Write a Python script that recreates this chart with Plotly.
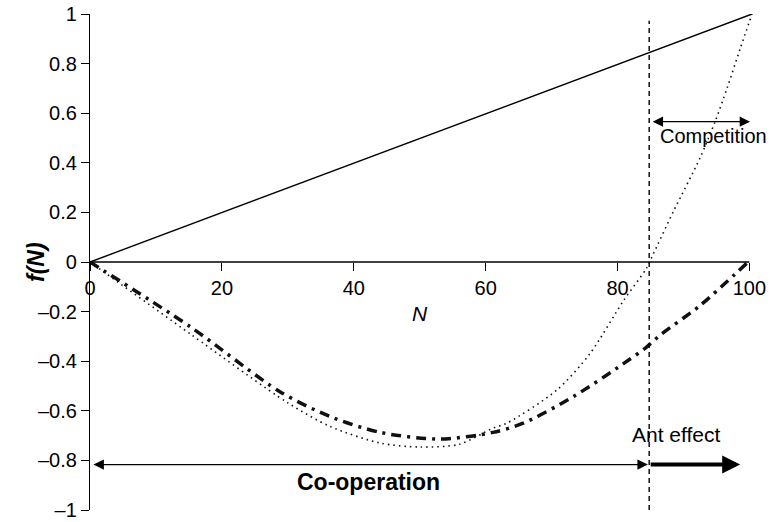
import plotly.graph_objects as go

# ---------------- data ----------------
solid_N = [0, 100.4]
solid_f = [0, 1.0]

dotted_N = [0, 15.2, 30.0, 36.4, 44.0, 50.0, 56.0, 61.1, 63.2, 70.8, 75.8, 80.9,
            84.4, 85.4, 88.5, 92.5, 94.8, 96.6, 98.6, 100.4]
dotted_f = [0, -0.29, -0.568, -0.663, -0.73, -0.746, -0.735, -0.67, -0.65, -0.516,
            -0.37, -0.156, -0.025, 0.031, 0.205, 0.419, 0.566, 0.70, 0.86, 1.0]

dashdot_N = [0, 15.2, 28.8, 36.4, 44.0, 53.1, 61.1, 65.7, 73.3, 80.9, 84.4, 86.4,
             92.5, 99.8]
dashdot_f = [0, -0.261, -0.523, -0.623, -0.687, -0.714, -0.687, -0.65, -0.543,
             -0.41, -0.343, -0.296, -0.176, 0]

threshold_N = 84.8
vline_f = [-1.0, 0.973]

comp_arrow_N = [85.1, 100.1]
comp_arrow_f = 0.566
coop_arrow_N = [0.3, 84.6]
coop_arrow_f = -0.817
ant_arrow_N = [84.8, 98.6]

baseline_N = [0, 100]

x_ticks = [0, 20, 40, 60, 80, 100]
x_ticktext = ["0", "20", "40", "60", "80", "100"]
y_ticks = [-1, -0.8, -0.6, -0.4, -0.2, 0, 0.2, 0.4, 0.6, 0.8, 1]
y_ticktext = ["–1", "–0.8", "–0.6", "–0.4", "–0.2", "0", "0.2", "0.4", "0.6", "0.8", "1"]

FONT = "Liberation Sans, Arial, Helvetica, sans-serif"

fig = go.Figure()

fig.add_trace(go.Scatter(x=solid_N, y=solid_f, mode="lines",
                         line=dict(color="black", width=1.4), cliponaxis=False))
fig.add_trace(go.Scatter(x=dotted_N, y=dotted_f, mode="lines",
                         line=dict(color="#111", width=1.6, dash="1.5px,4px",
                                   shape="spline", smoothing=0.8), cliponaxis=False))
fig.add_trace(go.Scatter(x=dashdot_N, y=dashdot_f, mode="lines",
                         line=dict(color="#111", width=3.5, dash="10px,6px,3px,6px",
                                   shape="spline", smoothing=0.8), cliponaxis=False))
fig.add_trace(go.Scatter(x=[threshold_N, threshold_N], y=vline_f, mode="lines",
                         line=dict(color="black", width=1.4, dash="5px,4px"),
                         cliponaxis=False))

fig.add_shape(type="line", xref="x", yref="y", x0=baseline_N[0], x1=baseline_N[1],
              y0=0, y1=0, line=dict(color="black", width=1.3))

# arrows
fig.add_annotation(x=comp_arrow_N[1], y=comp_arrow_f, ax=comp_arrow_N[0], ay=comp_arrow_f,
                   xref="x", yref="y", axref="x", ayref="y", text="",
                   showarrow=True, arrowhead=2, arrowside="end+start", arrowsize=1.6,
                   arrowwidth=1.3, arrowcolor="black", standoff=0, startstandoff=0)
fig.add_annotation(x=coop_arrow_N[1], y=coop_arrow_f, ax=coop_arrow_N[0], ay=coop_arrow_f,
                   xref="x", yref="y", axref="x", ayref="y", text="",
                   showarrow=True, arrowhead=2, arrowside="end+start", arrowsize=1.6,
                   arrowwidth=1.3, arrowcolor="black", standoff=0, startstandoff=0)
fig.add_annotation(x=ant_arrow_N[1], y=coop_arrow_f, ax=ant_arrow_N[0], ay=coop_arrow_f,
                   xref="x", yref="y", axref="x", ayref="y", text="",
                   showarrow=True, arrowhead=2, arrowsize=0.9,
                   arrowwidth=4, arrowcolor="black", standoff=0)

# labels
fig.add_annotation(x=94.6, y=0.507, xref="x", yref="y", text="Competition",
                   showarrow=False, font=dict(family=FONT, size=20, color="black"))
fig.add_annotation(x=89.0, y=-0.697, xref="x", yref="y", text="Ant effect",
                   showarrow=False, font=dict(family=FONT, size=21, color="black"))
fig.add_annotation(x=42.3, y=-0.888, xref="x", yref="y", text="<b>Co-operation</b>",
                   showarrow=False, font=dict(family=FONT, size=23, color="black"))
fig.add_annotation(x=50.0, y=-0.206, xref="x", yref="y", text="<i>N</i>",
                   showarrow=False, font=dict(family=FONT, size=21, color="black"))
fig.add_annotation(x=-0.1036, y=0, xref="paper", yref="y", text="<b><i>f(N)</i></b>",
                   textangle=-90, showarrow=False,
                   font=dict(family=FONT, size=23, color="black"))

fig.update_xaxes(range=[0, 101], anchor="free", position=0.5, tickvals=x_ticks,
                 ticktext=x_ticktext, ticks="outside", ticklen=8, tickwidth=1.2,
                 tickcolor="black", showline=False, showgrid=False, zeroline=False,
                 tickfont=dict(family=FONT, size=20, color="black"), automargin=False)
fig.update_yaxes(range=[-1, 1], tickvals=y_ticks, ticktext=y_ticktext, ticks="outside",
                 ticklen=8, tickwidth=1.2, tickcolor="black", showline=True,
                 linecolor="black", linewidth=1.3, showgrid=False, zeroline=False,
                 ticklabeloverflow="allow",
                 tickfont=dict(family=FONT, size=20, color="black"), automargin=False)

fig.update_layout(width=774, height=522, autosize=False, showlegend=False,
                  margin=dict(l=90, r=18, t=14, b=12),
                  plot_bgcolor="white", paper_bgcolor="white",
                  font=dict(family=FONT, color="black"))

fig.write_html("out.html", config={"displayModeBar": False},
               post_script="document.body.style.margin='0';document.body.style.overflow='hidden';")
